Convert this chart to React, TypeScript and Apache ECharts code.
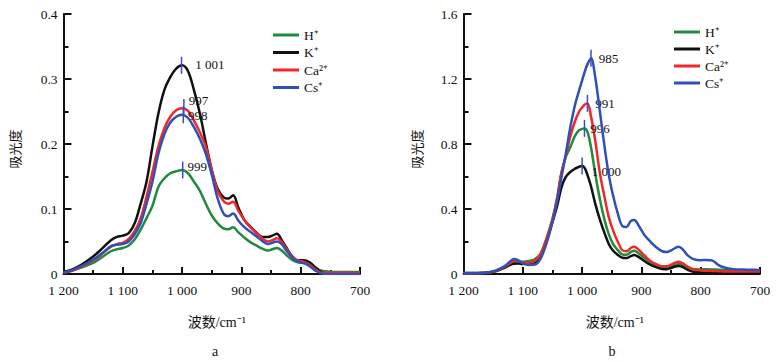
import React, { useEffect, useRef } from "react";
import * as echarts from "echarts";

// ---------- data: chart a ----------
const wavenumbersA = [1200, 1185, 1170, 1150, 1135, 1120, 1110, 1100, 1090, 1080, 1070, 1060, 1050, 1040, 1030, 1020, 1010, 1000, 990, 980, 970, 960, 950, 940, 930, 922, 914, 905, 895, 885, 875, 865, 855, 848, 840, 832, 825, 815, 805, 795, 785, 775, 765, 755, 745, 730, 715, 700];
const hA = [0.003, 0.006, 0.01, 0.017, 0.026, 0.035, 0.038, 0.04, 0.044, 0.053, 0.068, 0.086, 0.105, 0.134, 0.147, 0.155, 0.158, 0.16, 0.155, 0.142, 0.128, 0.108, 0.09, 0.078, 0.07, 0.069, 0.072, 0.064, 0.056, 0.049, 0.044, 0.039, 0.036, 0.038, 0.04, 0.036, 0.03, 0.022, 0.018, 0.017, 0.014, 0.009, 0.005, 0.004, 0.003, 0.003, 0.003, 0.003];
const kA = [0.003, 0.007, 0.014, 0.027, 0.039, 0.052, 0.057, 0.059, 0.063, 0.078, 0.108, 0.142, 0.196, 0.247, 0.283, 0.303, 0.316, 0.321, 0.312, 0.283, 0.247, 0.202, 0.16, 0.131, 0.118, 0.116, 0.121, 0.102, 0.083, 0.073, 0.064, 0.057, 0.057, 0.059, 0.062, 0.052, 0.042, 0.028, 0.021, 0.021, 0.018, 0.01, 0.003, 0.001, 0.001, 0.001, 0.001, 0.001];
const caA = [0.002, 0.005, 0.011, 0.021, 0.031, 0.042, 0.046, 0.048, 0.054, 0.066, 0.085, 0.119, 0.157, 0.196, 0.224, 0.242, 0.252, 0.255, 0.251, 0.236, 0.218, 0.196, 0.16, 0.128, 0.112, 0.108, 0.111, 0.097, 0.083, 0.072, 0.063, 0.055, 0.05, 0.052, 0.055, 0.049, 0.04, 0.028, 0.021, 0.019, 0.014, 0.007, 0.002, 0.002, 0.002, 0.002, 0.002, 0.002];
const csA = [0.002, 0.006, 0.012, 0.022, 0.032, 0.043, 0.045, 0.046, 0.05, 0.061, 0.078, 0.108, 0.142, 0.185, 0.215, 0.233, 0.242, 0.245, 0.24, 0.226, 0.208, 0.185, 0.153, 0.116, 0.093, 0.089, 0.093, 0.082, 0.072, 0.065, 0.058, 0.051, 0.046, 0.048, 0.05, 0.046, 0.037, 0.026, 0.019, 0.017, 0.012, 0.005, 0.001, 0, 0, 0, 0, 0];
const peakWavenumbersA = [999, 1001, 997, 998];
const peakValuesA = [0.16, 0.321, 0.256, 0.245];
const peakLabelsA = ["999", "1 001", "997", "998"];

// ---------- data: chart b ----------
const wavenumbersB = [1200, 1180, 1160, 1145, 1130, 1122, 1115, 1108, 1100, 1090, 1080, 1070, 1060, 1050, 1042, 1035, 1028, 1020, 1012, 1005, 1000, 996, 991, 985, 978, 970, 962, 955, 948, 940, 932, 925, 918, 912, 905, 895, 885, 875, 865, 857, 850, 843, 837, 830, 822, 812, 800, 790, 780, 770, 760, 745, 730, 715, 700];
const hB = [0.008, 0.008, 0.01, 0.018, 0.042, 0.06, 0.072, 0.076, 0.076, 0.08, 0.09, 0.127, 0.22, 0.34, 0.47, 0.62, 0.715, 0.78, 0.85, 0.885, 0.893, 0.896, 0.875, 0.78, 0.62, 0.46, 0.33, 0.245, 0.185, 0.148, 0.12, 0.118, 0.135, 0.143, 0.128, 0.1, 0.072, 0.054, 0.041, 0.039, 0.048, 0.058, 0.062, 0.055, 0.04, 0.029, 0.028, 0.029, 0.028, 0.026, 0.025, 0.023, 0.022, 0.021, 0.02];
const kB = [0.003, 0.004, 0.008, 0.018, 0.04, 0.055, 0.063, 0.064, 0.062, 0.064, 0.07, 0.11, 0.2, 0.32, 0.42, 0.53, 0.595, 0.628, 0.648, 0.66, 0.665, 0.655, 0.61, 0.54, 0.435, 0.335, 0.25, 0.185, 0.145, 0.118, 0.1, 0.098, 0.11, 0.117, 0.105, 0.08, 0.057, 0.042, 0.031, 0.03, 0.037, 0.046, 0.049, 0.042, 0.026, 0.014, 0.011, 0.01, 0.01, 0.01, 0.01, 0.01, 0.01, 0.01, 0.01];
const caB = [0.003, 0.004, 0.008, 0.02, 0.045, 0.065, 0.08, 0.078, 0.07, 0.07, 0.08, 0.12, 0.215, 0.335, 0.47, 0.62, 0.72, 0.845, 0.94, 1.0, 1.025, 1.042, 1.05, 0.97, 0.825, 0.62, 0.47, 0.35, 0.27, 0.2, 0.145, 0.14, 0.16, 0.168, 0.15, 0.115, 0.08, 0.06, 0.047, 0.047, 0.058, 0.07, 0.076, 0.065, 0.045, 0.028, 0.022, 0.02, 0.019, 0.017, 0.015, 0.015, 0.015, 0.015, 0.015];
const csB = [0.003, 0.004, 0.008, 0.022, 0.05, 0.075, 0.092, 0.085, 0.066, 0.056, 0.058, 0.095, 0.19, 0.32, 0.45, 0.59, 0.73, 0.9, 1.04, 1.13, 1.19, 1.24, 1.29, 1.327, 1.214, 1.0, 0.78, 0.61, 0.486, 0.375, 0.295, 0.29, 0.325, 0.332, 0.3, 0.24, 0.2, 0.165, 0.14, 0.135, 0.145, 0.16, 0.168, 0.15, 0.115, 0.092, 0.085, 0.086, 0.082, 0.055, 0.04, 0.03, 0.027, 0.026, 0.025];
const peakWavenumbersB = [996, 1000, 991, 985];
const peakValuesB = [0.896, 0.665, 1.05, 1.327];
const peakLabelsB = ["996", "1 000", "991", "985"];

const seriesNames = ["H\u207A", "K\u207A", "Ca\u00B2\u207A", "Cs\u207A"];
const xTicksLabel = (v: number) => (v >= 1000 ? `${Math.floor(v / 1000)} ${String(v % 1000).padStart(3, "0")}` : String(v));

// ---------- styles ----------
const colors = ["#1f8b3d", "#111111", "#f02828", "#3050b8"];
const markerColor = "#3a4cc0";
const FONT = "Liberation Serif";
const CJK_FONT = "Liberation Serif, Noto Sans CJK SC";
const labelOffsetsA: [number, number][] = [[4, -4], [13, -1], [4, -7], [4, 1]];
const labelOffsetsB: [number, number][] = [[5, 0], [9, 6], [7, 0], [7, 0]];
const drawOrder = [3, 2, 1, 0];

function buildSeries(
  gridIdx: number,
  wn: number[],
  values: number[][],
  peakW: number[],
  peakV: number[],
  peakL: string[],
  offsets: [number, number][]
) {
  return drawOrder.map((i) => ({
    type: "line",
    name: seriesNames[i],
    xAxisIndex: gridIdx,
    yAxisIndex: gridIdx,
    data: wn.map((w, j) => [w, values[i][j]]),
    smooth: 0.35,
    showSymbol: false,
    symbol: "none",
    lineStyle: { width: 2.5, color: colors[i] },
    itemStyle: { color: colors[i] },
    z: 2 + (3 - drawOrder.indexOf(i)),
    markPoint: {
      symbol: "rect",
      symbolSize: [1.5, 17],
      itemStyle: { color: markerColor },
      label: {
        show: true,
        position: "right",
        distance: 0,
        offset: offsets[i],
        formatter: () => peakL[i],
        color: "#111",
        fontSize: 13,
        fontFamily: FONT,
      },
      data: [{ coord: [peakW[i], peakV[i]] }],
    },
  }));
}

function xAxisCfg(gridIndex: number, padLeft: number) {
  return {
    gridIndex,
    type: "value",
    min: 700,
    max: 1200,
    interval: 100,
    inverse: true,
    name: "波数/cm\u207B\u00B9",
    nameLocation: "middle",
    nameGap: 41,
    nameTextStyle: { fontSize: 14, color: "#111", fontFamily: CJK_FONT, padding: [0, 0, 0, padLeft] },
    axisLine: { lineStyle: { color: "#111", width: 2 } },
    axisTick: { inside: true, length: 7, lineStyle: { color: "#111", width: 2 } },
    minorTick: { show: true, splitNumber: 2, length: 4, lineStyle: { color: "#111", width: 2 } },
    splitLine: { show: false },
    axisLabel: { formatter: xTicksLabel, fontSize: 13.5, color: "#111", fontFamily: FONT, margin: 9 },
  };
}

function yAxisCfg(gridIndex: number, max: number, interval: number, gap: number) {
  return {
    gridIndex,
    type: "value",
    min: 0,
    max,
    interval,
    name: "吸光度",
    nameLocation: "middle",
    nameRotate: 90,
    nameGap: gap,
    nameTextStyle: { fontSize: 13, color: "#111", fontFamily: CJK_FONT, padding: [0, 10, 0, 0] },
    axisLine: { show: true, lineStyle: { color: "#111", width: 2 } },
    axisTick: { show: true, inside: true, length: 8, lineStyle: { color: "#111", width: 2 } },
    minorTick: { show: true, splitNumber: 2, length: 5, lineStyle: { color: "#111", width: 2 } },
    splitLine: { show: false },
    axisLabel: {
      formatter: (v: number) => (v === 0 ? "0" : v.toFixed(1)),
      fontSize: 13.5,
      color: "#111",
      fontFamily: FONT,
      margin: 6,
    },
  };
}

function legendCfg(left: number, top: number, gap: number) {
  return {
    left,
    top,
    orient: "vertical",
    icon: "rect",
    itemWidth: 26,
    itemHeight: 3,
    itemGap: gap,
    selectedMode: false,
    data: seriesNames,
    textStyle: { fontSize: 13.5, color: "#111", fontFamily: FONT },
  };
}

export default function App() {
  const ref = useRef<HTMLDivElement>(null);
  useEffect(() => {
    if (!ref.current) return;
    const chart = echarts.init(ref.current, undefined, { renderer: "svg" });
    chart.setOption({
      animation: false,
      backgroundColor: "#ffffff",
      textStyle: { fontFamily: FONT },
      grid: [
        { left: 63.5, top: 14, width: 296.5, height: 260 },
        { left: 463.5, top: 14, width: 296.5, height: 260 },
      ],
      xAxis: [xAxisCfg(0, 10), xAxisCfg(1, 6)],
      yAxis: [yAxisCfg(0, 0.4, 0.1, 42), yAxisCfg(1, 1.6, 0.4, 40)],
      legend: [legendCfg(268, 23, 3.5), legendCfg(669, 20, 3)],
      graphic: [
        { type: "text", x: 215, y: 351, style: { text: "a", font: `14px ${FONT}`, fill: "#111", textAlign: "center", textVerticalAlign: "middle" } },
        { type: "text", x: 612, y: 351, style: { text: "b", font: `14px ${FONT}`, fill: "#111", textAlign: "center", textVerticalAlign: "middle" } },
      ],
      series: [
        ...buildSeries(0, wavenumbersA, [hA, kA, caA, csA], peakWavenumbersA, peakValuesA, peakLabelsA, labelOffsetsA),
        ...buildSeries(1, wavenumbersB, [hB, kB, caB, csB], peakWavenumbersB, peakValuesB, peakLabelsB, labelOffsetsB),
      ],
    });
    return () => chart.dispose();
  }, []);
  return (
    <div
      ref={ref}
      style={{ position: "absolute", left: 0, top: 0, width: 782, height: 362, background: "#fff" }}
    />
  );
}
